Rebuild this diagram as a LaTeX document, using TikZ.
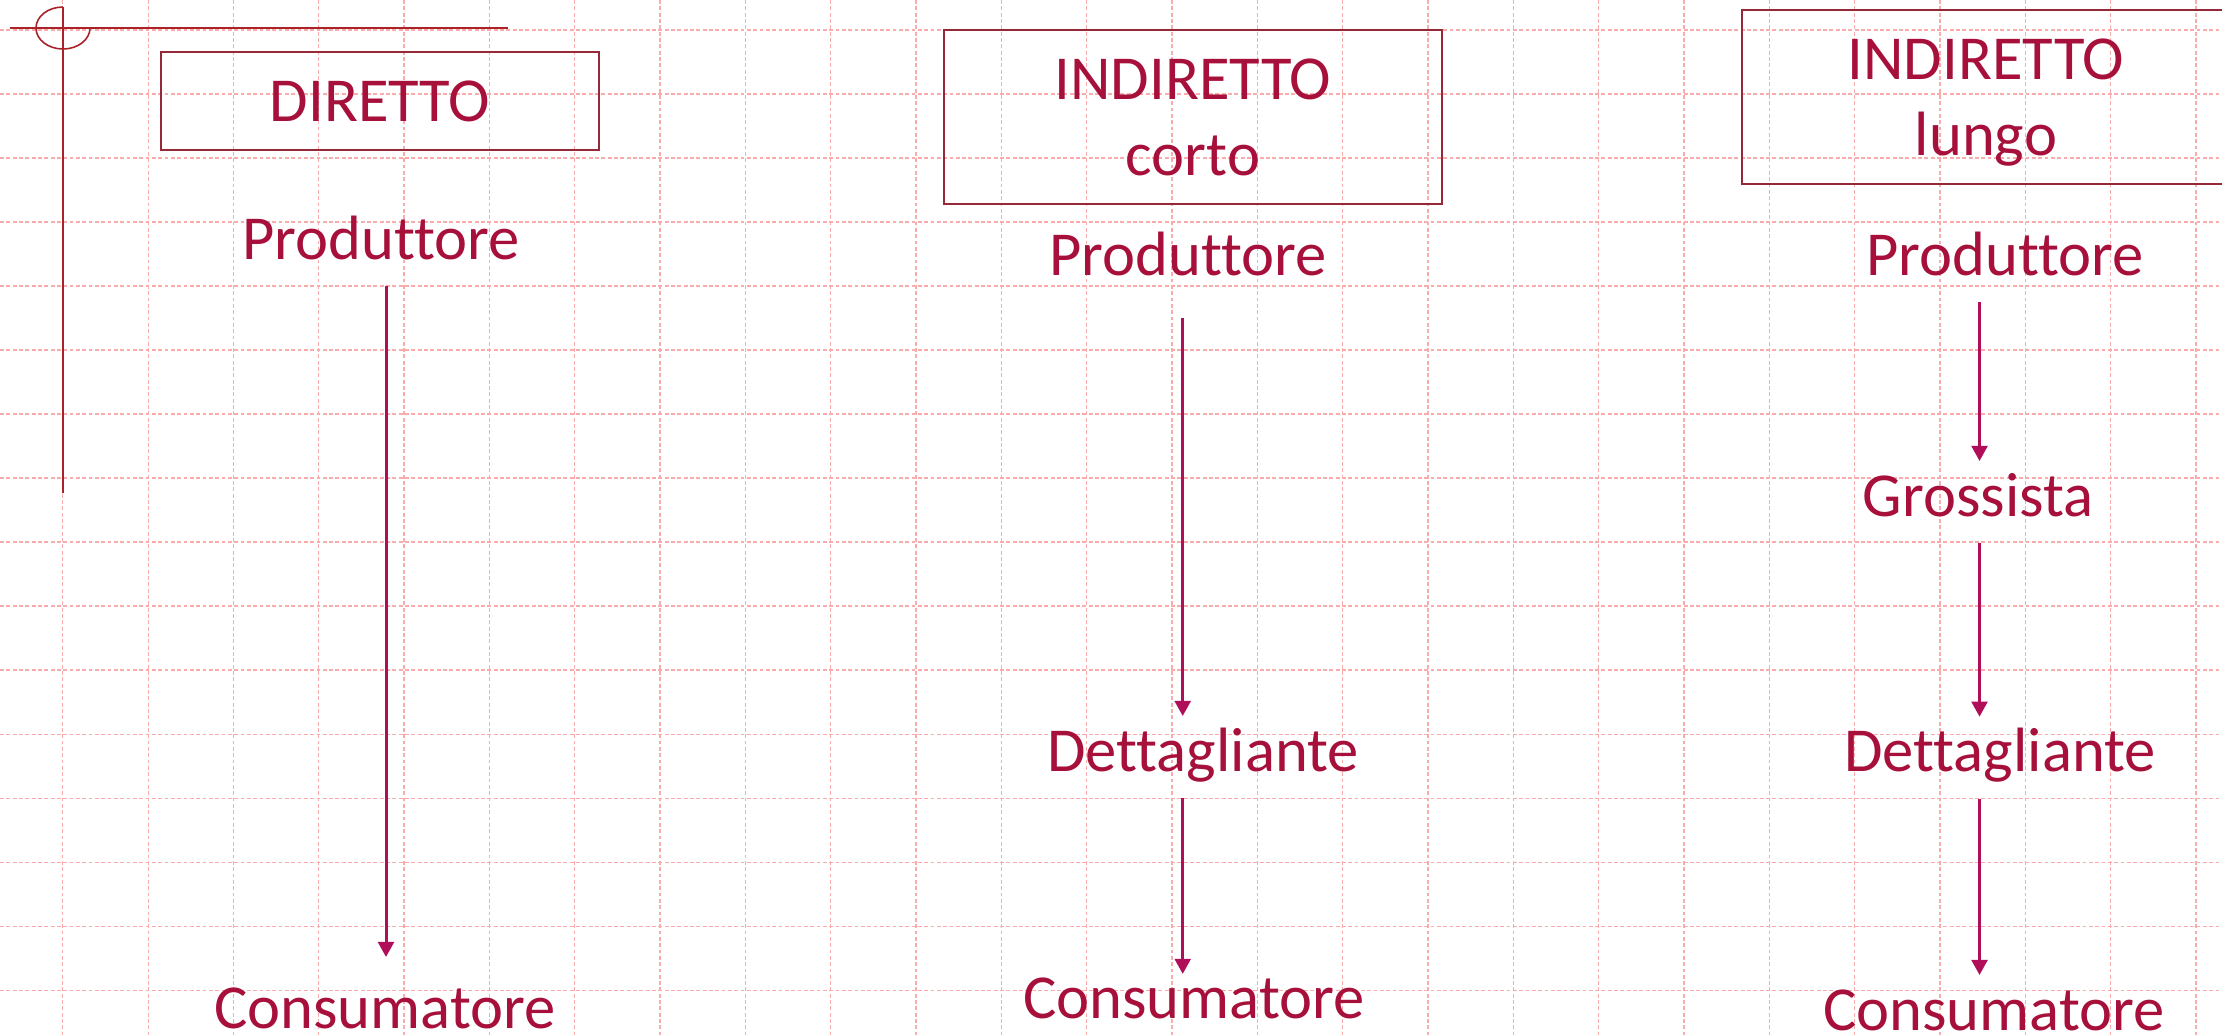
\documentclass[tikz,border=0pt]{standalone}
\usepackage{fontspec}
\setmainfont{Carlito}[Ligatures=NoCommon]
\usetikzlibrary{arrows.meta}
\definecolor{rossotesto}{RGB}{166,16,58}
\definecolor{rossobordo}{RGB}{150,40,55}
\definecolor{rossofreccia}{RGB}{176,14,88}
\definecolor{rossosegno}{RGB}{170,34,40}
\definecolor{rosagriglia}{RGB}{250,172,172}

\begin{document}
\begin{tikzpicture}[x=0.01cm,y=-0.01cm,line width=0.85pt,
  voce/.style={text=rossotesto,font=\fontsize{17.8}{21.7}\selectfont,inner xsep=0pt,inner ysep=3pt,
    outer sep=0pt,text height=12.65pt,text depth=4.68pt,anchor=base},
  titolo/.style={draw=rossobordo,line width=0.5pt,text=rossotesto,font=\fontsize{17.8}{21.7}\selectfont,
    align=center,text depth=0pt,inner sep=0pt,minimum height=49.5pt},
  freccia/.style={draw=rossofreccia,-{Triangle[length=4.3pt,width=4.5pt]}},
  quadretti/.style={draw=rosagriglia,line width=0.3pt,dash pattern=on 1.1pt off 0.7pt}]
  \useasboundingbox (0,0) rectangle (2222,1035);
  \clip (0,0) rectangle (2222,1035);
  % foglio a quadretti
  \foreach \i in {0,...,25}
    \draw[quadretti] ({62.7+85.33*\i},0) -- ({62.7+85.33*\i},1035);
  \foreach \j in {0,...,15}
    \draw[quadretti] (0,{30+64*\j}) -- (2222,{30+64*\j});
  % segno del margine
  \draw[rossosegno,line width=0.45pt] (9.6,28) -- (508,28) (63,7) -- (63,493);
  \draw[rossosegno,line width=0.45pt] (90,28) arc[start angle=0,end angle=270,x radius=27,y radius=21];
  % titoli
  \node[titolo,minimum width=124.6pt,minimum height=28pt] (tit1) at (380,101) {DIRETTO};
  \node[titolo,minimum width=141.7pt] (tit2) at (1193,117) {INDIRETTO\\corto};
  \node[titolo,minimum width=138.8pt] (tit3) at (1986,97) {INDIRETTO\\lungo};
  % canale diretto
  \coordinate (ax1) at (386,0);
  \node[voce] (prod1) at (381,259) {Produttore};
  \node[voce] (cons1) at (385,1028) {Consumatore};
  \draw[freccia,shorten >=4.55pt] (prod1.south -| ax1) -- (cons1.north -| ax1);
  % canale indiretto corto
  \coordinate (ax2) at (1182.7,0);
  \node[voce] (prod2) at (1188,275) {Produttore};
  \node[voce] (dett2) at (1203,771) {Dettagliante};
  \node[voce] (cons2) at (1194,1018) {Consumatore};
  \draw[freccia,shorten <=4.55pt] (prod2.south -| ax2) -- (dett2.north -| ax2);
  \draw[freccia,shorten >=-3.1pt] (dett2.south -| ax2) -- (cons2.north -| ax2);
  % canale indiretto lungo
  \coordinate (ax3) at (1979.5,0);
  \node[voce] (prod3) at (2005,275.3) {Produttore};
  \node[voce] (gros3) at (1978,516) {Grossista};
  \node[voce] (dett3) at (2000,771.7) {Dettagliante};
  \node[voce] (cons3) at (1994,1030) {Consumatore};
  \draw[freccia] (prod3.south -| ax3) -- (gros3.north -| ax3);
  \draw[freccia] (gros3.south -| ax3) -- (dett3.north -| ax3);
  \draw[freccia] (dett3.south -| ax3) -- (cons3.north -| ax3);
\end{tikzpicture}
\end{document}
